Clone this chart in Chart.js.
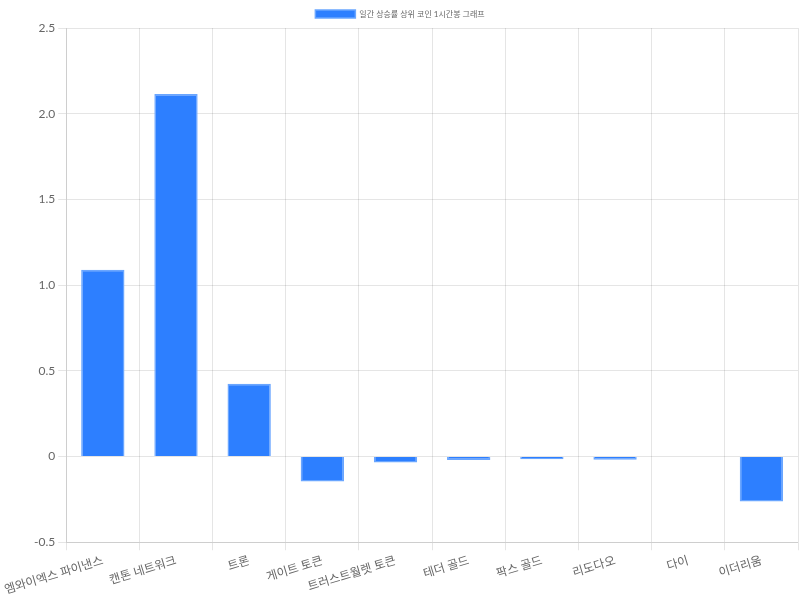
<!DOCTYPE html>
<html lang="ko">
<head>
    <meta charset="UTF-8">
    <title>일간 상승률 상위 코인 1시간봉 그래프</title>
    <script src="https://cdn.jsdelivr.net/npm/chart.js@4/dist/chart.umd.min.js"></script>
    <style>
        * { margin: 0; padding: 0; box-sizing: border-box; }
        body { background: #ffffff; }
        .chart-container { width: 800px; height: 600px; position: relative; }
    </style>
</head>
<body>
    <div class="chart-container">
        <canvas id="coinChart"></canvas>
    </div>

    <script>
        // Chart data
        const coinNames = ['엠와이엑스 파이낸스', '캔톤 네트워크', '트론', '게이트 토큰', '트러스트월렛 토큰',
            '테더 골드', '팍스 골드', '리도다오', '다이', '이더리움'];
        const changeValues = [1.09, 2.115, 0.425, -0.146, -0.035, -0.02, -0.015, -0.018, 0, -0.262];
        const seriesLabel = '일간 상승률 상위 코인 1시간봉 그래프';

        Chart.defaults.font.family = "Lato, 'Noto Sans CJK KR', sans-serif";
        Chart.defaults.color = '#666';

        const ctx = document.getElementById('coinChart').getContext('2d');
        new Chart(ctx, {
            type: 'bar',
            data: {
                labels: coinNames,
                datasets: [{
                    label: seriesLabel,
                    data: changeValues,
                    backgroundColor: '#2d7fff',
                    borderColor: '#6aa6ff',
                    borderWidth: 1.5,
                    categoryPercentage: 0.8,
                    barPercentage: 0.74
                }]
            },
            options: {
                responsive: true,
                maintainAspectRatio: false,
                animation: false,
                layout: { padding: { left: 2, right: 2, bottom: 0 } },
                scales: {
                    x: {
                        grid: { color: 'rgba(0,0,0,0.1)' },
                        ticks: { font: { size: 12 }, color: '#666', minRotation: 17, maxRotation: 17 }
                    },
                    y: {
                        min: -0.5,
                        max: 2.5,
                        ticks: { stepSize: 0.5, font: { size: 12 }, color: '#666' },
                        grid: { color: 'rgba(0,0,0,0.1)' }
                    }
                },
                plugins: {
                    legend: {
                        labels: { font: { size: 8 }, boxWidth: 40, boxHeight: 8 }
                    }
                }
            }
        });
    </script>
</body>
</html>
